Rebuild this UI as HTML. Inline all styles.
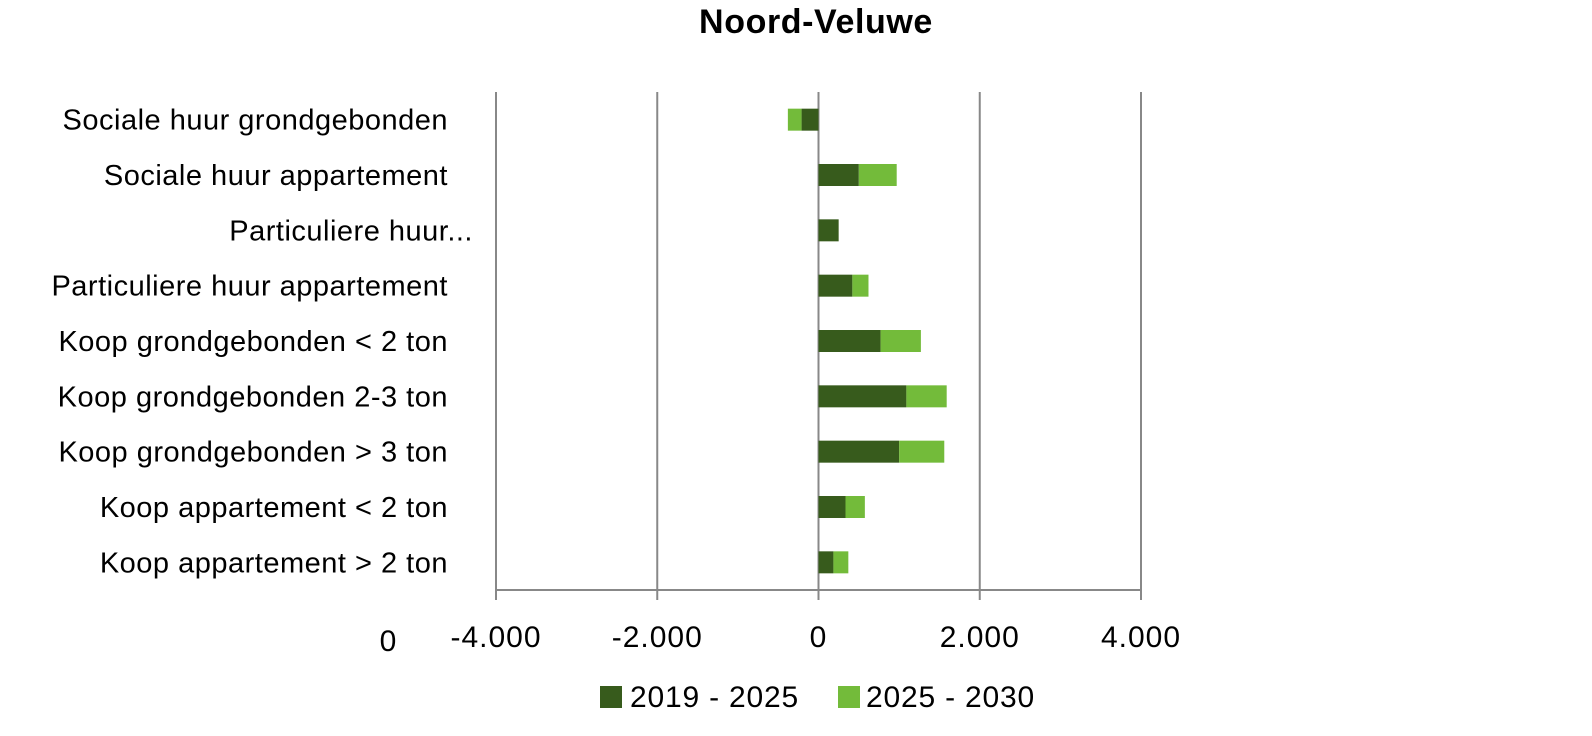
<!DOCTYPE html>
<html><head><meta charset="utf-8"><style>
body{margin:0;background:#fff;width:1592px;height:731px;overflow:hidden;font-family:"Liberation Sans",sans-serif}
svg text{font-family:"Liberation Sans",sans-serif}
</style></head><body>
<svg id="chart" width="1592" height="731" xmlns="http://www.w3.org/2000/svg">
<text x="816" y="33" text-anchor="middle" font-size="34" font-weight="bold" letter-spacing="0.6" fill="#000">Noord-Veluwe</text>
<g id="grid"></g><g id="bars"></g><g id="labels"></g>
<text x="388" y="651" text-anchor="middle" font-size="30" fill="#000">0</text>
<rect x="600" y="686" width="22" height="22" fill="#375b1c"/>
<text x="630" y="707" font-size="30" letter-spacing="0.8" fill="#000">2019 - 2025</text>
<rect x="838" y="686" width="22" height="22" fill="#73bb3a"/>
<text x="866" y="707" font-size="30" letter-spacing="0.8" fill="#000">2025 - 2030</text>
</svg>
<script>
const categories=["Sociale huur grondgebonden","Sociale huur appartement","Particuliere huur...","Particuliere huur appartement","Koop grondgebonden < 2 ton","Koop grondgebonden 2-3 ton","Koop grondgebonden > 3 ton","Koop appartement < 2 ton","Koop appartement > 2 ton"];
const series1=[-210,500,250,420,770,1090,1000,335,185];
const series2=[-170,470,0,200,500,500,560,240,185];
const ticks=[-4000,-2000,0,2000,4000];
const tickLabels=["-4.000","-2.000","0","2.000","4.000"];
const NS="http://www.w3.org/2000/svg";
const x0=496,x1=1141,vmin=-4000,vmax=4000,yTop=92,yBot=590;
const xs=v=>x0+(v-vmin)/(vmax-vmin)*(x1-x0);
const band=(yBot-yTop)/categories.length;
const yc=i=>yTop+band*(i+0.5);
function mk(tag,attrs,parent){const e=document.createElementNS(NS,tag);for(const k in attrs)e.setAttribute(k,attrs[k]);document.getElementById(parent).appendChild(e);return e;}
ticks.forEach((t,i)=>{
 const l=mk('line',{x1:xs(t),x2:xs(t),y1:yTop,y2:yBot+10,stroke:'#888','stroke-width':2},'grid');
 
 
 const tx=mk('text',{x:xs(t),y:647,'text-anchor':'middle','font-size':30,'letter-spacing':1,fill:'#000'},'grid');
 tx.textContent=tickLabels[i];
 
 
});
const ax=mk('line',{x1:x0,x2:x1,y1:yBot,y2:yBot,stroke:'#888','stroke-width':2},'grid');


categories.forEach((c,i)=>{
 const h=22,y=yc(i)-h/2;
 const a=series1[i],b=series2[i];
 const r1=mk('rect',{x:Math.min(xs(0),xs(a)),y:y,width:Math.abs(xs(a)-xs(0)),height:h,fill:'#375b1c'},'bars');
 
 
 const r2=mk('rect',{x:Math.min(xs(a),xs(a+b)),y:y,width:Math.abs(xs(a+b)-xs(a)),height:h,fill:'#73bb3a'},'bars');
 
 
 const t=mk('text',{x:c.endsWith('...')?473:448,y:yc(i)+10,'text-anchor':'end','font-size':29,'letter-spacing':0.5,fill:'#000'},'labels');
 t.textContent=c;
 
 
});
</script>
</body></html>
